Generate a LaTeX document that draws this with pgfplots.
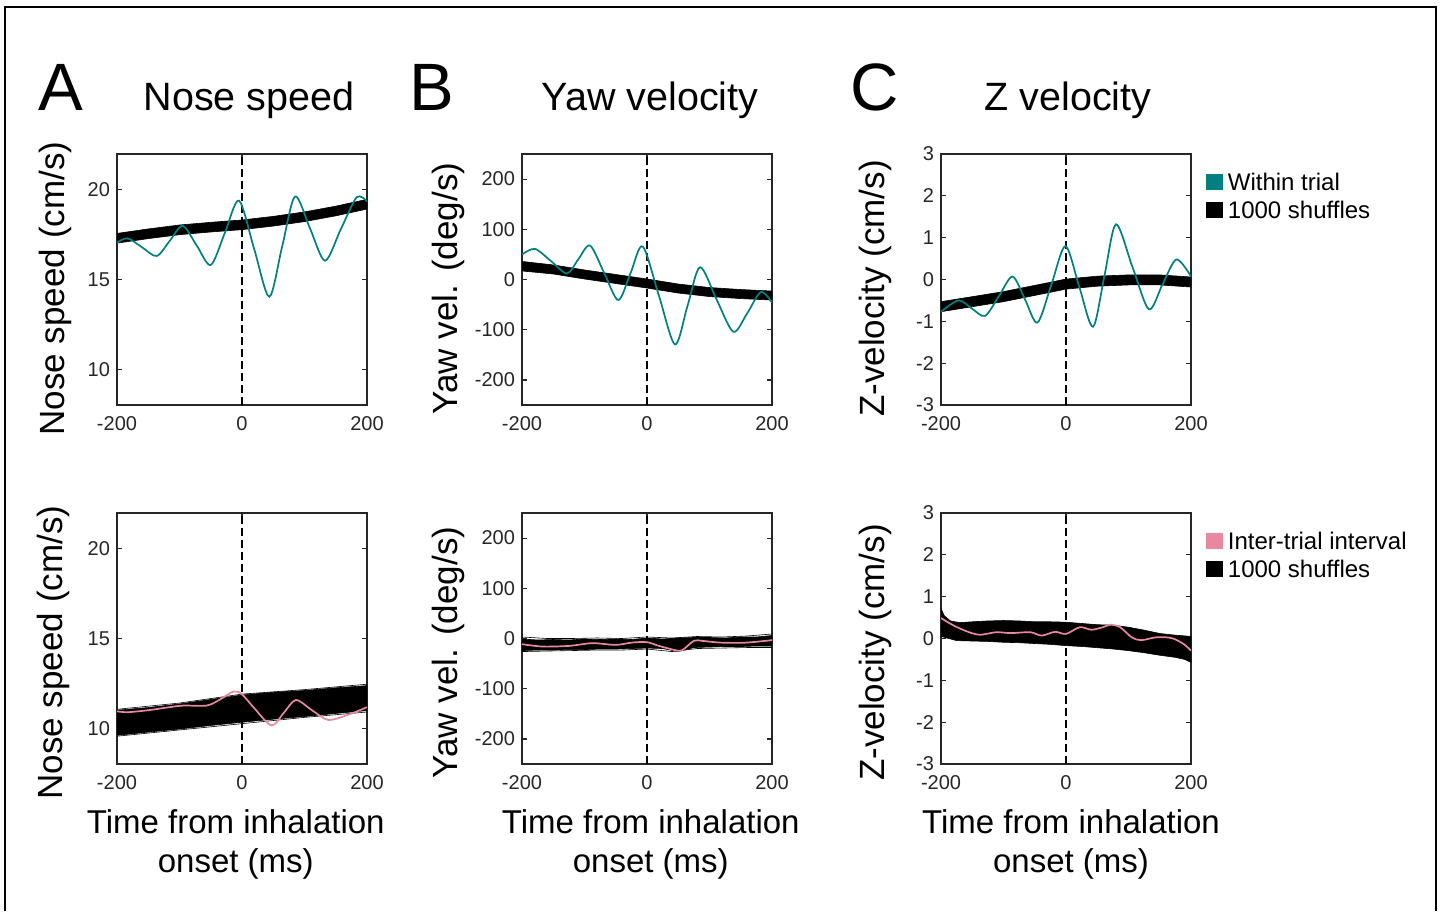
\documentclass[border=0pt]{standalone}
\usepackage{fontspec}
\setmainfont{Liberation Sans}
\usepackage{pgfplots}
\pgfplotsset{compat=1.18}
\definecolor{tealc}{RGB}{0,128,128}
\definecolor{pinkc}{RGB}{232,135,160}
\definecolor{axc}{RGB}{38,38,38}
\pgfplotsset{
 panel/.style={scale only axis, width=125pt, height=125.5pt, anchor=south west,
   xmin=-200, xmax=200, xtick={-200,0,200},
   axis line style={axc, line width=0.7pt},
   every tick/.style={axc, line width=0.6pt},
   major tick length=2.5pt,
   tick align=inside,
   ticklabel style={font=\fontsize{10}{12}\selectfont, text=axc},
   /pgf/number format/assume math mode=true,
   x tick label style={yshift=-2pt},
   xlabel style={font=\fontsize{16.5}{19.5}\selectfont, align=center, anchor=north, inner sep=0pt},
   ylabel style={font=\fontsize{17.5}{20}\selectfont, anchor=south, inner sep=0pt},
   title style={font=\fontsize{19.75}{22}\selectfont, anchor=base, inner sep=0pt, yshift=-6pt},
   legend style={draw=none, fill=none, inner sep=0pt, anchor=north west,
     at={(axis description cs:1.06,0.925)}, font=\fontsize{12}{14}\selectfont,
     nodes={inner sep=0pt, text height=8.6pt, text depth=0pt},
     row sep=5.4pt, column sep=2.6pt},
   legend cell align=left,
 },
 band/.style={fill=black, draw=black, line width=0.3pt, forget plot},
 strand/.style={black, line width=0.3pt, forget plot},
 zline/.style={black, dash pattern=on 4pt off 2pt, line width=0.6pt, forget plot},
 tline/.style={tealc, line width=0.85pt, smooth, forget plot},
 pline/.style={pinkc, line width=0.85pt, smooth, forget plot},
}
\begin{document}
\begin{tikzpicture}
\useasboundingbox (0,0) rectangle (721.5pt,455.5pt);
\fill[white] (0,0) rectangle (721.5pt,455.5pt);
\draw[black, line width=0.6pt] (2.5pt,0pt) -- (2.5pt,452pt) -- (718pt,452pt) -- (718pt,0pt);
\node[anchor=base west, inner sep=0pt, font=\fontsize{33.5}{36}\selectfont] at (19pt,400pt) {A};
\node[anchor=base west, inner sep=0pt, font=\fontsize{33.5}{36}\selectfont] at (204.3pt,400pt) {B};
\node[anchor=base west, inner sep=0pt, font=\fontsize{33.5}{36}\selectfont] at (424.8pt,400pt) {C};

% ---------- Row 1, A: Nose speed ----------
\begin{axis}[panel, at={(58.5pt,253pt)}, ymin=8, ymax=22, ytick={10,15,20},
  title={Nose speed}, title style={at={(axis description cs:0.528,1.175)}},
  ylabel={Nose speed (cm/s)}, ylabel style={at={(axis description cs:-0.18,0.464)}}]
\addplot[band] coordinates {(-200,17.57) (-150,17.82) (-100,18.04) (-50,18.19) (0,18.32) (50,18.52) (100,18.77) (150,19.09) (200,19.47)
 (200,18.93) (150,18.55) (100,18.23) (50,17.98) (0,17.78) (-50,17.65) (-100,17.5) (-150,17.28) (-200,17.03)} -- cycle;
\addplot[zline] coordinates {(0,8) (0,22)};
\addplot[tline] coordinates {(-200,17.05) (-183,17.3) (-160,16.8) (-136.5,16.31) (-115.7,17.15) (-94.9,17.99) (-72.5,16.9) (-50,15.81) (-27.4,17.6) (-4.8,19.4) (19.5,16.7) (43.7,14.04) (64.3,16.85) (84.8,19.63) (108.8,17.85) (132.8,16.05) (158,17.8) (183.5,19.59) (200,19.35)};
\end{axis}

% ---------- Row 1, B: Yaw velocity ----------
\begin{axis}[panel, at={(261pt,253pt)}, ymin=-250, ymax=250, ytick={-200,-100,0,100,200},
  title={Yaw velocity}, title style={at={(axis description cs:0.512,1.175)}},
  ylabel={Yaw vel. (deg/s)}, ylabel style={at={(axis description cs:-0.228,0.464)}}]
\addplot[band] coordinates {(-200,36) (-150,29) (-100,19) (-50,10) (0,1) (50,-9) (100,-16) (150,-20) (200,-23)
 (200,-41) (150,-38) (100,-34) (50,-27) (0,-17) (-50,-8) (-100,1) (-150,11) (-200,17)} -- cycle;
\addplot[zline] coordinates {(0,-250) (0,250)};
\addplot[tline] coordinates {(-200,49.8) (-179.2,61) (-153,36) (-128,12) (-110,40) (-91.2,67.7) (-68.5,13) (-45.9,-41) (-26.4,12.5) (-6.9,66) (19,-32) (44.8,-129.5) (64.8,-52.5) (84.8,24.5) (111.4,-40) (138,-104) (160,-68) (182,-25) (200,-46)};
\end{axis}

% ---------- Row 1, C: Z velocity ----------
\begin{axis}[panel, at={(470.5pt,253pt)}, ymin=-3, ymax=3, ytick={-3,-2,-1,0,1,2,3},
  title={Z velocity}, title style={at={(axis description cs:0.508,1.175)}},
  ylabel={Z-velocity (cm/s)}, ylabel style={at={(axis description cs:-0.196,0.464)}}]
\addplot[band] coordinates {(-200,-0.53) (-150,-0.41) (-100,-0.29) (-50,-0.14) (0,0.01) (50,0.08) (100,0.11) (150,0.11) (200,0.06)
 (200,-0.18) (150,-0.13) (100,-0.13) (50,-0.16) (0,-0.23) (-50,-0.38) (-100,-0.53) (-150,-0.65) (-200,-0.77)} -- cycle;
\addplot[zline] coordinates {(0,-3) (0,3)};
\addplot[tline] coordinates {(-200,-0.77) (-172,-0.5) (-151,-0.69) (-129.6,-0.87) (-107.5,-0.4) (-85.5,0.07) (-65.5,-0.48) (-45.6,-1.03) (-23.2,-0.11) (-0.9,0.80) (21.1,-0.17) (43.2,-1.13) (61.6,0.1) (80,1.32) (106.3,0.3) (132.6,-0.71) (154.6,-0.11) (176.7,0.48) (200,0.07)};
\addlegendimage{legend image code/.code={\fill[tealc] (0pt,-3.875pt) rectangle (7.75pt,3.875pt);}}
\addlegendentry{Within trial}
\addlegendimage{legend image code/.code={\fill[black] (0pt,-3.875pt) rectangle (7.75pt,3.875pt);}}
\addlegendentry{1000 shuffles}
\end{axis}

% ---------- Row 2, A ----------
\begin{axis}[panel, at={(58.5pt,73.5pt)}, ymin=8, ymax=22, ytick={10,15,20},
  xlabel={Time from inhalation\\onset (ms)}, xlabel style={at={(axis description cs:0.475,-0.179)}},
  ylabel={Nose speed (cm/s)}, ylabel style={at={(axis description cs:-0.188,0.444)}}]
\addplot[band] coordinates {(-200,11.0) (-150,11.15) (-100,11.35) (-50,11.6) (0,11.85) (50,12.0) (100,12.1) (150,12.25) (200,12.37)
 (200,10.98) (150,10.82) (100,10.65) (50,10.5) (0,10.33) (-50,10.15) (-100,9.95) (-150,9.78) (-200,9.6)} -- cycle;
\addplot[strand] coordinates {(-200,9.55) (-100,9.9) (0,10.25) (100,10.6) (200,10.9)};
\addplot[strand] coordinates {(-200,11.05) (-100,11.4) (0,11.9) (100,12.15) (200,12.45)};
\addplot[zline] coordinates {(0,8) (0,22)};
\addplot[pline] coordinates {(-200,10.94) (-183,10.89) (-150,11.0) (-120,11.15) (-93.6,11.26) (-56.4,11.26) (-35,11.6) (-13.8,12.04) (-0.5,11.9) (20,11.1) (47.3,10.15) (67,10.86) (86.2,11.57) (112,11.0) (137.8,10.46) (170,10.75) (200,11.17)};
\end{axis}

% ---------- Row 2, B ----------
\begin{axis}[panel, at={(261pt,73.5pt)}, ymin=-250, ymax=250, ytick={-200,-100,0,100,200},
  xlabel={Time from inhalation\\onset (ms)}, xlabel style={at={(axis description cs:0.515,-0.179)}},
  ylabel={Yaw vel. (deg/s)}, ylabel style={at={(axis description cs:-0.228,0.444)}}]
\addplot[band] coordinates {(-200,-1) (-175,-3) (-150,-2) (-125,-3) (-100,-1) (-75,-2) (-50,-1) (-25,-2) (0,1) (25,-1) (50,1) (75,2) (100,2) (125,1) (150,3) (175,3) (200,6)
 (200,-15) (175,-15) (150,-16) (125,-16) (100,-17) (75,-18) (50,-26) (25,-20) (0,-19) (-25,-20) (-50,-21) (-75,-21) (-100,-22) (-125,-22) (-150,-23) (-175,-23) (-200,-24)} -- cycle;
\addplot[strand] coordinates {(-200,3) (-160,0) (-120,0) (-80,1) (-40,0) (0,3) (40,1) (80,4) (120,3) (160,5) (200,9)};
\addplot[strand] coordinates {(-200,-26) (-160,-25) (-120,-24) (-80,-23) (-40,-23) (0,-21) (40,-26) (80,-20) (120,-19) (160,-18) (200,-18)};
\addplot[zline] coordinates {(0,-250) (0,250)};
\addplot[pline] coordinates {(-200,-11.3) (-167,-16) (-124.5,-14.7) (-87.2,-9.3) (-50,-12.7) (-23.4,-8) (0,-7.3) (19.1,-14.7) (45.7,-23.3) (56.4,-23.3) (75,-4.7) (88.3,-4.7) (115,-8) (146.8,-8.7) (168,-7.3) (200,-3.3)};
\end{axis}

% ---------- Row 2, C ----------
\begin{axis}[panel, at={(470.5pt,73.5pt)}, ymin=-3, ymax=3, ytick={-3,-2,-1,0,1,2,3},
  xlabel={Time from inhalation\\onset (ms)}, xlabel style={at={(axis description cs:0.52,-0.179)}},
  ylabel={Z-velocity (cm/s)}, ylabel style={at={(axis description cs:-0.196,0.444)}}]
\addplot[band] coordinates {(-200,0.72) (-195,0.55) (-185,0.42) (-170,0.38) (-150,0.40) (-125,0.42) (-100,0.43) (-75,0.42) (-50,0.40) (-25,0.40) (0,0.39) (25,0.36) (50,0.33) (75,0.32) (100,0.27) (125,0.20) (150,0.12) (175,0.08) (200,0.05)
 (200,-0.57) (190,-0.50) (175,-0.45) (150,-0.40) (125,-0.34) (100,-0.29) (75,-0.25) (50,-0.22) (25,-0.19) (0,-0.17) (-25,-0.14) (-50,-0.12) (-75,-0.10) (-100,-0.09) (-125,-0.07) (-150,-0.06) (-175,-0.05) (-200,0.05)} -- cycle;
\addplot[zline] coordinates {(0,-3) (0,3)};
\addplot[pline] coordinates {(-200,0.49) (-179.8,0.31) (-155,0.15) (-137,0.09) (-112,0.15) (-88,0.13) (-57,0.15) (-39,0.07) (-17.5,0.16) (0,0.11) (22,0.27) (40.7,0.21) (59,0.27) (71,0.33) (86.6,0.27) (105,0.03) (120,-0.04) (145,0.03) (169,0.01) (188,-0.13) (200,-0.29)};
\addlegendimage{legend image code/.code={\fill[pinkc] (0pt,-3.875pt) rectangle (7.75pt,3.875pt);}}
\addlegendentry{Inter-trial interval}
\addlegendimage{legend image code/.code={\fill[black] (0pt,-3.875pt) rectangle (7.75pt,3.875pt);}}
\addlegendentry{1000 shuffles}
\end{axis}
\end{tikzpicture}
\end{document}
